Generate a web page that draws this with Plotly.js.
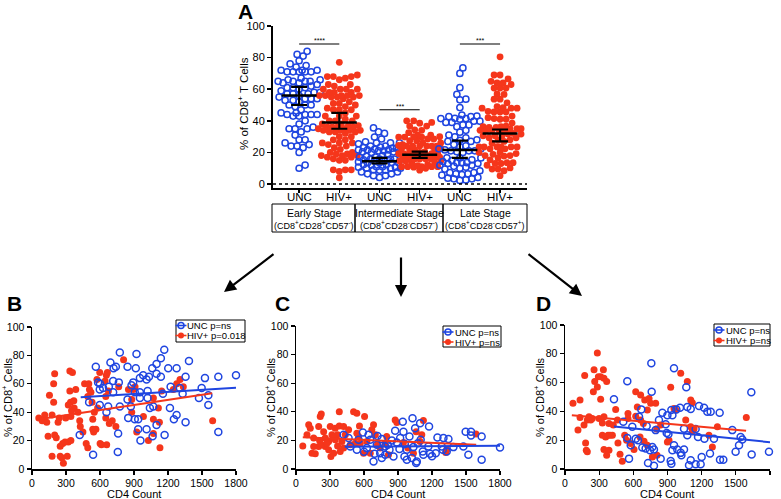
<!DOCTYPE html>
<html><head><meta charset="utf-8">
<script src="https://cdn.plot.ly/plotly-3.0.1.min.js"></script>
<style>html,body{margin:0;padding:0;background:#fff}#chart{width:781px;height:499px}</style>
</head><body><div id="chart"></div>
<script>
// ---------- data ----------
const groupLabels = ['UNC','HIV+','UNC','HIV+','UNC','HIV+'];
const stageNames = ['Early Stage','Intermediate Stage','Late Stage'];
const stagePhenotypes = ['(CD8<sup>+</sup>CD28<sup>+</sup>CD57<sup>-</sup>)','(CD8<sup>+</sup>CD28<sup>-</sup>CD57<sup>-</sup>)','(CD8<sup>+</sup>CD28<sup>-</sup>CD57<sup>+</sup>)'];
const groupMean = [56, 39, 14.5, 18.5, 21.5, 32];
const groupCiLow = [50, 35, 13, 16.5, 16.5, 27];
const groupCiHigh = [61.5, 45, 16.5, 20.5, 27.5, 34.5];
const sigLabels = ['****','***','***'];
const sigPairs = [[0,1],[2,3],[4,5]];
const sigLevels = [88.6, 47, 88.6];

const legendB = ['UNC p=ns','HIV+ p=0.018'];
const legendC = ['UNC p=ns','HIV+ p=ns'];
const legendD = ['UNC p=ns','HIV+ p=ns'];

// Panel B (early stage) : CD4 count vs %
const bUncX = [775,922,1167,692,563,720,740,1385,843,916,1061,1099,1137,1202,1276,1800,1644,1526,1355,1137,1099,1032,981,952,1011,716,766,583,678,627,598,716,878,893,952,1020,1020,1155,1223,1305,1329,1497,1556,1473,1556,1644,1355,1276,1252,1217,1070,1040,952,907,843,872,849,907,937,775,672,598,657,504,937,957,1011,1064,1099,1170,760,421,539,757,600];
const bUncY = [82,81,84,75,72,71,72,76,72,71,71,74,78,71,71,66,65,64,65,65,67,65,66,64,63,62,61,61,58,57,56,54,59,61,54,55,50,53,58,57,53,57,52,50,45,26,33,38,35,43,44,43,50,54,49,44,36,35,35,44,44,45,40,47,28,20,28,23,31,24,25,24,10,12,60];
const bHivX = [60,112,200,191,154,191,90,177,240,297,343,142,200,214,177,249,271,291,320,343,249,263,311,277,334,357,334,386,340,369,320,372,349,406,421,426,449,492,478,464,501,507,520,492,530,579,550,536,536,544,564,601,613,659,573,656,665,645,674,651,651,708,740,682,808,765,851,598,894,909,880,880,924,983,1071,1115,1071,1124,1071,1027,1129,1277,1306,1335,1247,1144,1594,130,230];
const bHivY = [36,38,67,60,52,47,34,38,36,36,37,23,24,22,9,16,18,19,19,20,9,8,9,4,69,68,55,56,47,48,45,43,41,40,34,30,26,15,18,60,60,56,54,51,47,43,40,35,28,26,28,18,17,17,63,66,68,62,55,51,36,34,30,32,77,58,56,68,56,58,49,40,26,37,50,43,35,33,25,20,15,60,63,58,56,55,34,33,33];

// Panel C (intermediate stage)
const cUncX = [1028,942,1095,1174,875,948,1051,1497,1544,1544,1638,1248,1301,1345,590,640,719,1001,919,420,464,552,655,757,846,890,1075,1168,1286,1389,1477,1800,479,537,625,713,787,825,913,978,1036,1119,1183,1233,1295,1330,693,743,787,860,957,1022,1066,1124,684,978,1060,1521,1638,757,1200,600,810,1100,960];
const cUncY = [35.5,33,32,29.7,26.7,26,28.5,26,26,23.4,22.7,22,21.6,21,25.5,24,23,22.7,21.6,24,21.6,20.4,20.4,21,20,18.6,18,15.8,15.8,15.3,15.8,15,15.8,13.5,14.6,17,15.8,13.5,14,13.5,15.3,12.3,10.7,11,13.5,12.3,10.7,11,10,8.8,8.8,7.7,5.3,10,5.3,6.5,4.2,10,6.5,7.7,9,12,17,20.5,17.5];
const cHivX = [60,112,126,156,141,170,200,214,223,208,244,258,288,258,288,308,332,302,317,346,367,367,382,382,390,405,346,200,229,420,464,435,508,537,537,523,552,567,596,605,625,669,684,655,719,743,787,800,816,875,890,948,987,1060,1124,1110,1095,1036,1330,1321,1588,479,97,156,273,420,330,560,700];
const cHivY = [16,31,28.5,21.6,11,10.7,29.7,36.7,38.5,20,26,21.6,19.3,15.8,13.5,8.8,11,29.7,24,28.5,24,16,40,30,12.3,19.3,20.4,15.8,17,29.7,27.4,24,40,39,25,18,22.7,18,11,36.7,19.3,27.4,31,11,17,14.6,18,22.7,10,34.3,32.5,18.6,14.6,26,34,24,19.3,11,13.5,11.6,24.4,17,24,15.8,18,14.6,22,30,24];

// Panel D (late stage)
const dUncX = [758,957,547,430,761,1065,1636,1074,1104,1177,1221,1250,1279,1358,1010,978,934,899,943,855,825,884,670,650,512,591,717,796,893,908,1045,1147,1074,1168,1224,1308,1469,1542,1557,1528,1498,1639,1791,547,621,641,577,679,708,746,767,781,840,943,957,986,1016,1045,1022,928,934,1104,1089,1147,1191,1200,1273,1361,1390,562,729,781];
const dUncY = [73.5,70,61,48.4,53.7,56.7,53.3,43,41.6,43.7,42.6,39.8,39.8,39,42.6,41.4,41,37.4,37.4,39,34,31,41.4,36.3,32.8,29.3,29.8,27,25,24.2,28,27.7,23.5,22.3,21,21,27,22.3,20.5,16.5,11.9,10,11.9,21.6,21,20,16.5,14.9,14.2,13,15.3,13.5,7.2,13,16.5,13.5,11.2,13.5,9.5,5.6,3.7,6,2.6,3.3,3.3,8.4,10.7,6.5,6.5,7.2,4.2,2.3];
const dHivX = [70,132,173,255,284,261,249,293,313,342,337,366,313,284,114,132,167,196,226,240,211,181,187,196,299,342,328,328,357,378,342,386,366,395,416,424,386,445,460,465,483,503,524,553,553,541,577,606,621,635,621,664,700,738,723,752,664,688,659,694,723,767,808,796,805,840,899,913,928,957,972,1016,1074,1104,1118,1060,1104,1133,1118,1264,1294,1338,1592];
const dHivY = [45.6,48,65,69,80.5,60.7,53.7,64,64,63,69,60.7,48.4,57,27,35.8,30.5,34,34,35,36.3,18,13,11.9,35,36.3,32,23.5,22.3,23.5,13.5,13,9.5,23.5,23.5,30.5,31.6,41.4,34,18,10.2,5.3,23.5,38.6,35,20,17.7,13.5,53.7,43,36.7,51.4,48,49,41,45.6,34,31.6,22.3,19.3,16.5,8.4,9.5,45.6,27.7,30.5,18.8,20,56.7,42,41,66.5,60.7,48,46,34,29.3,28,25.8,23.5,15.3,29.3,35.8];

// regression lines
const bUncFitX = [430,1800], bUncFitY = [50.5,57.2];
const bHivFitX = [60,1590],  bHivFitY = [35,53.3];
const cUncFitX = [430,1800], cUncFitY = [15.6,16.3];
const cHivFitX = [60,1590],  cHivFitY = [22.2,17];
const dUncFitX = [430,1800], dUncFitY = [29.5,18.6];
const dHivFitX = [60,1590],  dHivFitY = [37.4,26.5];

// ---------- styling / layout helpers ----------
const BLUE = '#1f45e0', RED = '#f5361b';
const FONT = 'Liberation Sans, Arial, sans-serif';
const W = 781, H = 499;
const px = v => v / W;
const py = v => 1 - v / H;

// A panel geometry
const aX0 = 273, aX1 = 527, aXr = [-0.65, 5.67];
const aYtop = 26, aYbot = 188, aYr = [-2.5, 100];
const xPxPerUnit = (aX1 - aX0) / (aXr[1] - aXr[0]);
const yPxPerUnit = (aYbot - aYtop) / (aYr[1] - aYr[0]);

// compact beeswarm layout (horizontal offsets computed from values, capped width)
function swarm(values, center, d, cap) {
  const order = values.map((v, i) => i).sort((a, b) => values[a] - values[b]);
  const placed = [];
  const out = new Array(values.length);
  for (const i of order) {
    const yy = values[i] * yPxPerUnit;
    let best = 0, bestD = -1;
    for (let s = 0; s <= 2 * cap; s++) {
      const cand = s === 0 ? 0 : (s % 2 ? 1 : -1) * Math.ceil(s / 2);
      let md = Infinity;
      for (const p of placed) {
        if (Math.abs(p.y - yy) < d) md = Math.min(md, Math.hypot(p.x - cand, p.y - yy));
      }
      if (md >= d) { best = cand; bestD = md; break; }
      if (md > bestD + 0.3) { bestD = md; best = cand; }
    }
    placed.push({ x: best, y: yy });
    out[i] = center + best / xPxPerUnit;
  }
  return out;
}

const groupsY = [bUncY, bHivY, cUncY, cHivY, dUncY, dHivY];
const traces = [];
groupsY.forEach((ys, g) => {
  const isUnc = g % 2 === 0;
  traces.push({
    type: 'scatter', mode: 'markers', xaxis: 'x', yaxis: 'y', showlegend: false, hoverinfo: 'y',
    x: swarm(ys, g, 6, 21), y: ys, cliponaxis: false,
    marker: isUnc ? { symbol: 'circle-open', size: 6.2, color: BLUE, line: { width: 1.5, color: BLUE } }
                  : { symbol: 'circle', size: 6.8, color: RED, line: { width: 0 } }
  });
});
// mean +/- CI
traces.push({
  type: 'scatter', mode: 'markers', xaxis: 'x', yaxis: 'y', showlegend: false,
  x: groupLabels.map((l, i) => i), y: groupMean, cliponaxis: false,
  marker: { symbol: 'line-ew', size: 25, color: 'black', line: { width: 2.5, color: 'black' } },
  error_y: { type: 'data', symmetric: false,
    array: groupCiHigh.map((h, i) => h - groupMean[i]),
    arrayminus: groupCiLow.map((l, i) => groupMean[i] - l),
    width: 8, thickness: 2.2, color: 'black' }
});
// significance bars
sigPairs.forEach((p, i) => {
  traces.push({ type: 'scatter', mode: 'lines', xaxis: 'x', yaxis: 'y', showlegend: false, hoverinfo: 'skip',
    x: p, y: [sigLevels[i], sigLevels[i]], line: { color: 'black', width: 1.2 } });
});

// scatter panels
const panels = [
  { ax: '2', uX: bUncX, uY: bUncY, hX: bHivX, hY: bHivY, uf: [bUncFitX, bUncFitY], hf: [bHivFitX, bHivFitY] },
  { ax: '3', uX: cUncX, uY: cUncY, hX: cHivX, hY: cHivY, uf: [cUncFitX, cUncFitY], hf: [cHivFitX, cHivFitY] },
  { ax: '4', uX: dUncX, uY: dUncY, hX: dHivX, hY: dHivY, uf: [dUncFitX, dUncFitY], hf: [dHivFitX, dHivFitY] }
];
panels.forEach(p => {
  const xa = 'x' + p.ax, ya = 'y' + p.ax;
  traces.push({ type: 'scatter', mode: 'markers', xaxis: xa, yaxis: ya, showlegend: false, cliponaxis: false,
    x: p.hX, y: p.hY, marker: { symbol: 'circle', size: 7, color: RED } });
  traces.push({ type: 'scatter', mode: 'markers', xaxis: xa, yaxis: ya, showlegend: false, cliponaxis: false,
    x: p.uX, y: p.uY, marker: { symbol: 'circle-open', size: 7, color: BLUE, line: { width: 1.5, color: BLUE } } });
  traces.push({ type: 'scatter', mode: 'lines', xaxis: xa, yaxis: ya, showlegend: false, hoverinfo: 'skip',
    x: p.hf[0], y: p.hf[1], line: { color: RED, width: 2 } });
  traces.push({ type: 'scatter', mode: 'lines', xaxis: xa, yaxis: ya, showlegend: false, hoverinfo: 'skip',
    x: p.uf[0], y: p.uf[1], line: { color: BLUE, width: 2 } });
});

const axBase = { showline: true, linecolor: 'black', ticks: 'outside', tickcolor: 'black', ticklen: 4,
  showgrid: false, zeroline: false, fixedrange: true, automargin: false,
  tickfont: { family: FONT, size: 11, color: 'black' } };
const smallTick = { family: FONT, size: 10.5, color: 'black' };

const layout = {
  width: W, height: H, margin: { l: 0, r: 0, t: 0, b: 0 }, showlegend: false,
  paper_bgcolor: 'white', plot_bgcolor: 'rgba(0,0,0,0)',
  font: { family: FONT, color: 'black' },
  xaxis: Object.assign({}, axBase, { domain: [px(aX0), px(aX1)], range: aXr, anchor: 'y',
    tickvals: groupLabels.map((l, i) => i), showticklabels: false, ticklen: 3, linewidth: 2, tickwidth: 1.5 }),
  yaxis: Object.assign({}, axBase, { domain: [py(aYbot), py(aYtop)], range: aYr, anchor: 'x',
    tickvals: [0, 20, 40, 60, 80, 100], linewidth: 2, tickwidth: 1.5 }),
  xaxis2: Object.assign({}, axBase, { domain: [px(32), px(236)], range: [0, 1800], dtick: 300, anchor: 'y2', linewidth: 1.5, tickwidth: 1.2, tickfont: smallTick }),
  yaxis2: Object.assign({}, axBase, { domain: [py(469), py(327)], range: [0, 100], dtick: 20, anchor: 'x2', linewidth: 1.5, tickwidth: 1.2, tickfont: smallTick }),
  xaxis3: Object.assign({}, axBase, { domain: [px(296), px(500)], range: [0, 1800], dtick: 300, anchor: 'y3', linewidth: 1.5, tickwidth: 1.2, tickfont: smallTick }),
  yaxis3: Object.assign({}, axBase, { domain: [py(469), py(326)], range: [0, 100], dtick: 20, anchor: 'x3', linewidth: 1.5, tickwidth: 1.2, tickfont: smallTick }),
  xaxis4: Object.assign({}, axBase, { domain: [px(565), px(770)], range: [0, 1800], dtick: 300, anchor: 'y4', linewidth: 1.5, tickwidth: 1.2, tickfont: smallTick }),
  yaxis4: Object.assign({}, axBase, { domain: [py(469), py(325)], range: [0, 100], dtick: 20, anchor: 'x4', linewidth: 1.5, tickwidth: 1.2, tickfont: smallTick }),
  shapes: [],
  annotations: []
};

// category labels of panel A (placed on the category axis scale)
groupLabels.forEach((t, i) => {
  layout.annotations.push({ xref: 'x', yref: 'paper', x: i, y: py(197), text: t, showarrow: false,
    xanchor: 'center', yanchor: 'middle', font: { family: FONT, size: 11.5, color: 'black' } });
});

// compact boxed legends (drawn as shapes + text)
function addLegend(box, symX, textX, rowsY, labels) {
  layout.shapes.push({ type: 'rect', xref: 'paper', yref: 'paper', x0: px(box[0]), x1: px(box[2]), y0: py(box[3]), y1: py(box[1]),
    line: { color: 'black', width: 1 }, fillcolor: 'white', layer: 'above' });
  labels.forEach((t, i) => {
    const c = i === 0 ? BLUE : RED, cy = rowsY[i];
    layout.shapes.push({ type: 'line', xref: 'paper', yref: 'paper', x0: px(symX - 5.5), x1: px(symX + 5.5), y0: py(cy), y1: py(cy),
      line: { color: c, width: 1.6 }, layer: 'above' });
    layout.shapes.push({ type: 'circle', xref: 'paper', yref: 'paper', x0: px(symX - 3), x1: px(symX + 3), y0: py(cy + 3), y1: py(cy - 3),
      line: { color: c, width: i === 0 ? 1.5 : 0 }, fillcolor: i === 0 ? 'rgba(0,0,0,0)' : c, layer: 'above' });
    layout.annotations.push({ xref: 'paper', yref: 'paper', x: px(textX), y: py(cy), text: t, showarrow: false,
      xanchor: 'left', yanchor: 'middle', font: { family: FONT, size: 9.5, color: 'black' } });
  });
}
addLegend([176, 320, 245, 342], 181, 184.5, [325.5, 335.5], legendB);
addLegend([443, 326, 501, 347], 448, 453, [332, 342], legendC);
addLegend([714, 324, 770, 346], 719, 724, [330, 340.5], legendD);

// dotted zero line in panel A
layout.shapes.push({ type: 'line', xref: 'x domain', yref: 'y', x0: 0, x1: 1, y0: 0, y1: 0,
  line: { color: 'black', width: 1.5, dash: 'dot' } });
// stage boxes
const boxEdges = [272, 355, 443, 527];
for (let i = 0; i < 3; i++) {
  layout.shapes.push({ type: 'rect', xref: 'paper', yref: 'paper', x0: px(boxEdges[i]), x1: px(boxEdges[i + 1]),
    y0: py(232), y1: py(204), line: { color: 'black', width: 1 } });
  const cx = (boxEdges[i] + boxEdges[i + 1]) / 2;
  layout.annotations.push({ xref: 'paper', yref: 'paper', x: px(cx), y: py(212.5), text: stageNames[i], showarrow: false,
    xanchor: 'center', yanchor: 'middle', font: { family: FONT, size: 10.5, color: 'black' } });
  layout.annotations.push({ xref: 'paper', yref: 'paper', x: px(cx), y: py(225.5), text: stagePhenotypes[i], showarrow: false,
    xanchor: 'center', yanchor: 'middle', font: { family: FONT, size: 9, color: 'black' } });
}
// significance stars
sigPairs.forEach((p, i) => {
  layout.annotations.push({ xref: 'x', yref: 'y', x: (p[0] + p[1]) / 2, y: sigLevels[i], text: sigLabels[i], showarrow: false,
    yanchor: 'bottom', yshift: -2, font: { family: FONT, size: 7, color: 'black' } });
});
// axis titles
const yTitleA = '% of CD8<sup>+</sup> T Cells';
const yTitleS = '% of CD8<sup>+</sup> Cells';
const xTitleS = 'CD4 Count';
layout.annotations.push({ xref: 'paper', yref: 'paper', x: px(243), y: py(104), text: yTitleA, textangle: -90, showarrow: false,
  xanchor: 'center', yanchor: 'middle', font: { family: FONT, size: 11.5, color: 'black' } });
[[7, 134], [270, 398], [539, 667]].forEach(([yx, xx]) => {
  layout.annotations.push({ xref: 'paper', yref: 'paper', x: px(yx), y: py(397), text: yTitleS, textangle: -90, showarrow: false,
    xanchor: 'center', yanchor: 'middle', font: { family: FONT, size: 11, color: 'black' } });
  layout.annotations.push({ xref: 'paper', yref: 'paper', x: px(xx), y: py(494), text: xTitleS, showarrow: false,
    xanchor: 'center', yanchor: 'middle', font: { family: FONT, size: 11, color: 'black' } });
});
// panel letters
[['A', 246, 11], ['B', 15, 303], ['C', 282, 303], ['D', 543, 303]].forEach(([t, x, y]) => {
  layout.annotations.push({ xref: 'paper', yref: 'paper', x: px(x), y: py(y), text: '<b>' + t + '</b>', showarrow: false,
    xanchor: 'center', yanchor: 'middle', font: { family: FONT, size: 21, color: 'black' } });
});
// arrows
[[224, 292, 51, -39], [401, 297, 0, -41], [582, 296, -55, -43]].forEach(([x, y, ax, ay]) => {
  layout.annotations.push({ xref: 'paper', yref: 'paper', x: px(x), y: py(y), ax: ax, ay: ay, text: '', showarrow: true,
    arrowhead: 2, arrowsize: 1.1, arrowwidth: 2.2, arrowcolor: 'black' });
});

Plotly.newPlot('chart', traces, layout, { displayModeBar: false, staticPlot: true });
</script>
</body></html>
